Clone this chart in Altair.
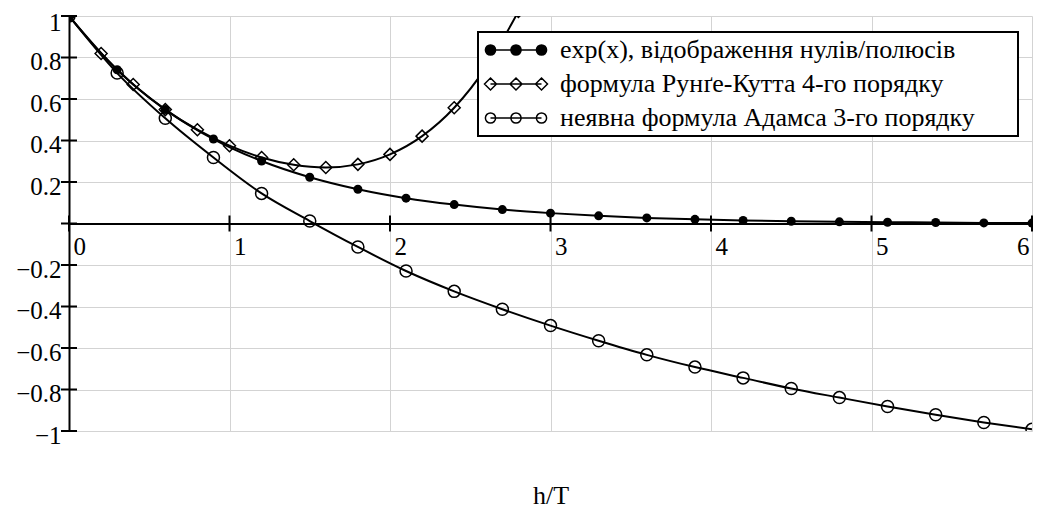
import altair as alt
import pandas as pd

# ---------------- data ----------------
x_exp = [0.0, 0.3, 0.6, 0.9, 1.2, 1.5, 1.8, 2.1, 2.4, 2.7, 3.0,
         3.3, 3.6, 3.9, 4.2, 4.5, 4.8, 5.1, 5.4, 5.7, 6.0]
y_exp = [1.000, 0.741, 0.549, 0.407, 0.301, 0.223, 0.165, 0.122, 0.091, 0.067, 0.050,
         0.037, 0.027, 0.020, 0.015, 0.011, 0.008, 0.006, 0.005, 0.003, 0.002]

x_rk = [0.0, 0.2, 0.4, 0.6, 0.8, 1.0, 1.2, 1.4, 1.6, 1.8, 2.0, 2.2, 2.4, 2.6, 2.8]
y_rk = [1.000, 0.819, 0.670, 0.549, 0.452, 0.375, 0.318, 0.283, 0.270, 0.285,
        0.333, 0.421, 0.558, 0.755, 1.022]

x_ad = [0.0, 0.3, 0.6, 0.9, 1.2, 1.5, 1.8, 2.1, 2.4, 2.7, 3.0,
        3.3, 3.6, 3.9, 4.2, 4.5, 4.8, 5.1, 5.4, 5.7, 6.0]
y_ad = [1.000, 0.725, 0.507, 0.318, 0.145, 0.012, -0.113, -0.229, -0.327, -0.413, -0.492,
        -0.565, -0.633, -0.692, -0.744, -0.795, -0.839, -0.882, -0.922, -0.959, -0.992]

series_names = [
    "exp(x), відображення нулів/полюсів",
    "формула Рунґе-Кутта 4-го порядку",
    "неявна формула Адамса 3-го порядку",
]

x_tick_values = [0, 1, 2, 3, 4, 5, 6]
y_tick_values = [-1, -0.8, -0.6, -0.4, -0.2, 0, 0.2, 0.4, 0.6, 0.8, 1]

# ---------------- tables ----------------
df_exp = pd.DataFrame({"x": x_exp, "y": y_exp, "series": series_names[0]})
df_rk = pd.DataFrame({"x": x_rk, "y": y_rk, "series": series_names[1]})
df_ad = pd.DataFrame({"x": x_ad, "y": y_ad, "series": series_names[2]})
df_all = pd.concat([df_exp, df_rk, df_ad], ignore_index=True)

df_xt = pd.DataFrame({"x": x_tick_values, "y": [0] * len(x_tick_values)})
df_yt = pd.DataFrame({"x": [0] * len(y_tick_values), "y": y_tick_values})
df_leg = pd.DataFrame({"series": series_names, "x": [0, 0, 0], "y": [0, 0, 0]})

FONT = "Times New Roman, Liberation Serif, DejaVu Serif, serif"
W, H = 963, 415
PAD = "\u2800" * 2  # blank (non-trimmed) filler widening the legend box

x_axis = alt.Axis(
    values=x_tick_values, format="d", grid=True, gridColor="#d3d3d3", gridWidth=1,
    domainColor="black", domainWidth=2, ticks=False, tickSize=0,
    labelFont=FONT, labelFontSize=25, labelColor="black",
    labelAlign={"condition": {"test": "datum.value == 6", "value": "right"}, "value": "left"},
    labelOffset={"condition": {"test": "datum.value == 6", "value": -3}, "value": 4},
    labelBaseline="top", labelPadding=11,
    labelFlush=False, labelOverlap=False,
    offset=-H / 2,
    title="h/T", titleFont=FONT, titleFontSize=26, titleFontWeight="normal",
    titleColor="black", titleX=W / 2, titleY=280, titleBaseline="alphabetic",
    titleAlign="center",
)
y_axis = alt.Axis(
    values=y_tick_values, format="~g",
    labelExpr="datum.value == 0 ? '' : datum.label",
    grid=True, gridColor="#d3d3d3", gridWidth=1,
    domainColor="black", domainWidth=2, ticks=False, tickSize=0,
    labelFont=FONT, labelFontSize=25, labelColor="black",
    labelPadding=8,
    labelOffset={"condition": {"test": "datum.value == 1", "value": 6}, "value": 4},
    labelOverlap=False, labelFlush=False,
    title=None,
)

X = alt.X("x:Q", scale=alt.Scale(domain=[0, 6], nice=False, zero=False), axis=x_axis)
Y = alt.Y("y:Q", scale=alt.Scale(domain=[-1, 1], nice=False, zero=False), axis=y_axis)

lines = alt.Chart(df_all).mark_line(
    color="black", strokeWidth=2, interpolate="monotone", clip=True
).encode(x=X, y=Y, detail="series:N")

pts_exp = alt.Chart(df_exp).mark_point(
    shape="circle", filled=True, size=81, color="black", opacity=1, clip=True
).encode(x=X, y=Y)

pts_rk = alt.Chart(df_rk).mark_point(
    shape="diamond", filled=False, size=144, color="black", strokeWidth=1.5,
    opacity=1, clip=True
).encode(x=X, y=Y)

pts_ad = alt.Chart(df_ad).mark_point(
    shape="circle", filled=False, size=144, color="black", strokeWidth=1.5,
    opacity=1, clip=True
).encode(x=X, y=Y)

xticks = alt.Chart(df_xt).mark_tick(
    orient="vertical", size=16, thickness=2, color="black", opacity=1
).encode(x=X, y=Y)

yticks = alt.Chart(df_yt).mark_tick(
    orient="horizontal", size=16, thickness=2, color="black", opacity=1
).encode(x=X, y=Y)


# legend symbols: a line with three markers (custom SVG paths; unit = sqrt(size)/2 = 6 px)
def circ(cx, r):
    return (f"M{cx - r:.3f},0A{r:.3f},{r:.3f} 0 1,0 {cx + r:.3f},0"
            f"A{r:.3f},{r:.3f} 0 1,0 {cx - r:.3f},0Z")


def diam(cx, r):
    return f"M{cx:.3f},{-r:.3f}L{cx + r:.3f},0L{cx:.3f},{r:.3f}L{cx - r:.3f},0Z"


cs = [-4.25, 0.0, 4.25]
base = "M-4.25,0L4.25,0"
sym_exp = base + "".join(circ(c, 0.85) for c in cs)
sym_rk = base + "".join(diam(c, 1.0) for c in cs)
sym_ad = base + "".join(circ(c, 0.85) for c in cs)

legend = alt.Legend(
    title=None, orient="none", legendX=409, legendY=16,
    labelFont=FONT, labelFontSize=26, labelColor="black", labelLimit=900,
    labelExpr=f"datum.label + '{PAD}'",
    labelOffset=31, symbolOffset=20, fillColor="white", strokeColor="black",
    padding=5, rowPadding=8, symbolSize=144, symbolStrokeColor="black",
    symbolStrokeWidth=1.5, zindex=1,
)

leg_layer = alt.Chart(df_leg).mark_point(
    size=144, opacity=1, strokeWidth=1.5, color="black", filled=False
).encode(
    shape=alt.Shape("series:N", scale=alt.Scale(domain=series_names,
                                                 range=[sym_exp, sym_rk, sym_ad]),
                    legend=legend),
    fill=alt.Fill("series:N", scale=alt.Scale(domain=series_names,
                                               range=["black", "transparent", "transparent"]),
                  legend=legend),
    stroke=alt.Stroke("series:N", scale=alt.Scale(domain=series_names,
                                                   range=["black", "black", "black"]),
                      legend=legend),
).transform_filter("false")

chart = alt.layer(lines, pts_rk, pts_ad, pts_exp, xticks, yticks, leg_layer).properties(
    width=W, height=H,
    autosize=alt.AutoSizeParams(type="none"),
    padding={"left": 61, "top": 8, "right": 6, "bottom": 80},
    background="white",
).configure_view(stroke=None).configure_legend(strokeWidth=2)

chart.save("out.html", embed_options={"renderer": "svg", "actions": False})
